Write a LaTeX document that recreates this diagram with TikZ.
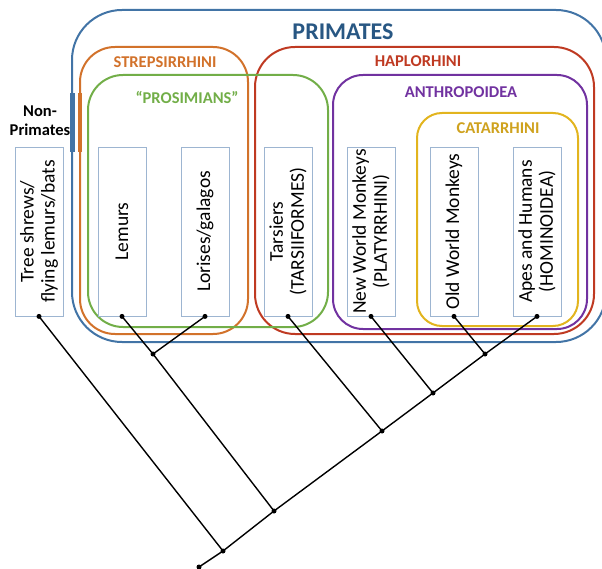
\documentclass[tikz,border=0pt]{standalone}
\usepackage{fontspec}
\setmainfont{Carlito}
\definecolor{cblue}{HTML}{4274A6}
\definecolor{tblue}{HTML}{285783}
\definecolor{corange}{HTML}{D2722B}
\definecolor{cgreen}{HTML}{72AE48}
\definecolor{cred}{HTML}{BF3A22}
\definecolor{cpurple}{HTML}{7132A0}
\definecolor{cgold}{HTML}{E2B41E}
\definecolor{tgold}{HTML}{CFA21E}
\definecolor{boxc}{HTML}{9DB5D1}
\tikzset{
  grp/.style={line width=2pt},
  leaf/.style={draw=boxc, line width=0.8pt, fill=white, minimum width=169pt,
    minimum height=48pt, rotate=90, inner sep=0pt, align=center,
    font=\fontsize{19.5}{21}\selectfont},
  lbl/.style={font=\fontsize{16.5}{19}\selectfont\bfseries, inner sep=0pt},
  branch/.style={line width=1.4pt, black},
  dot/.style={circle, fill=black, inner sep=0pt, minimum size=5pt}
}
\begin{document}
\begin{tikzpicture}[x=1pt,y=-1pt]
\useasboundingbox (0,0) rectangle (602,569);
% group outlines
\draw[grp, cblue, rounded corners=50pt] (72,10) rectangle (606,342);
\draw[grp, corange, rounded corners=35pt] (80,47) rectangle (248,334);
\draw[grp, cred, rounded corners=40pt] (255,47) rectangle (594,334);
\draw[grp, cgreen, rounded corners=35pt] (88,75) rectangle (328,327);
\draw[grp, cpurple, rounded corners=30pt] (333,75) rectangle (587,329);
\draw[grp, cgold, rounded corners=25pt] (417,113) rectangle (578,326);
% thick bars on left
\fill[cblue] (70,93) rectangle (74.5,152);
\fill[corange] (77.5,93) rectangle (82,152);
% labels
\node[font=\fontsize{24}{28}\selectfont\bfseries, text=tblue, inner sep=0pt] (tprim) at (343,32) {PRIMATES};
\node[lbl, text=corange] (tstrep) at (165,62) {STREPSIRRHINI};
\node[lbl, text=cgreen] (tpros) at (187,97) {“PROSIMIANS”};
\node[lbl, text=cred] (thap) at (418,61) {HAPLORHINI};
\node[lbl, text=cpurple] (tanth) at (461,92) {ANTHROPOIDEA};
\node[lbl, text=tgold] (tcat) at (498,128) {CATARRHINI};
\node[lbl, align=center, text=black] (tnon) at (40,121) {Non-\\Primates};
% leaves
\node[leaf] (l1) at (39,231.5) {Tree shrews/\\flying lemurs/bats};
\node[leaf] (l2) at (122,231.5) {Lemurs};
\node[leaf] (l3) at (205,231.5) {Lorises/galagos};
\node[leaf] (l4) at (288,231.5) {Tarsiers\\(TARSIIFORMES)};
\node[leaf] (l5) at (371,231.5) {New World Monkeys\\(PLATYRRHINI)};
\node[leaf] (l6) at (454,231.5) {Old World Monkeys};
\node[leaf] (l7) at (537,231.5) {Apes and Humans\\(HOMINOIDEA)};
% tree
\coordinate (A) at (153,354);
\coordinate (B) at (485,354);
\coordinate (C) at (433,393);
\coordinate (D) at (382,431);
\coordinate (E) at (274,511);
\coordinate (F) at (223,551);
\coordinate (R) at (199,567);
\draw[branch] (R) -- (F) -- (E) -- (D) -- (C) -- (B);
\draw[branch] (l1.west) -- (F);
\draw[branch] (l2.west) -- (A) -- (E);
\draw[branch] (l3.west) -- (A);
\draw[branch] (l4.west) -- (D);
\draw[branch] (l5.west) -- (C);
\draw[branch] (l6.west) -- (B);
\draw[branch] (l7.west) -- (B);
\foreach \p in {A,B,C,D,E,F,R,l1.west,l2.west,l3.west,l4.west,l5.west,l6.west,l7.west}
  \node[dot] at (\p) {};
\end{tikzpicture}
\end{document}
